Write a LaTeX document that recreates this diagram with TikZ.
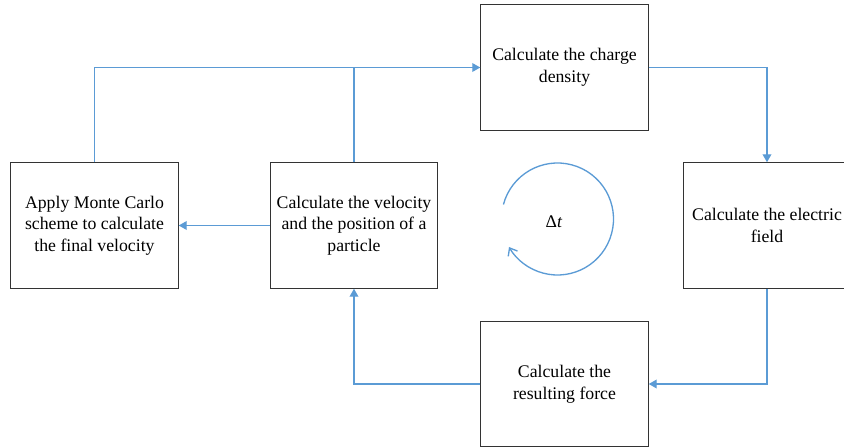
\documentclass[tikz,border=0pt]{standalone}
\usepackage{fontspec}
\setmainfont{Liberation Serif}
\usetikzlibrary{arrows.meta}
\definecolor{flowblue}{RGB}{91,155,213}
\begin{document}
\begin{tikzpicture}[
                x=0.75pt, y=0.75pt,
                box/.style={draw=black!80, line width=0.8pt, minimum width=125.5pt, minimum height=94pt,
                            align=center, font=\fontsize{13.3}{16.3}\selectfont, inner sep=2pt},
                flow/.style={draw=flowblue, line width=1pt},
                tip/.style={-{Triangle[length=6pt, width=6.5pt]}}
            ]

                % Frame of the picture
                \useasboundingbox (0,0) rectangle (844,447);

                % The five steps of the loop
                \node[box] (charge) at (564.5,379.5) {Calculate the charge\\density};
                \node[box] (field) at (767,221.5) {Calculate the electric\\field};
                \node[box] (force) at (564.5,63) {Calculate the\\resulting force};
                \node[box] (velocity) at (354,221.5) {Calculate the velocity\\and the position of a\\particle};
                \node[box] (monte) at (94.5,221.5) {Apply Monte Carlo\\scheme to calculate\\the final velocity};

                % Connectors round the loop
                \draw[flow, tip] (charge.east) -| (field.north);
                \draw[flow, tip] (field.south) |- (force.east);
                \draw[flow, tip] (force.west) -| (velocity.south);
                \draw[flow, tip] (velocity.west) -- (monte.east);
                \draw[flow, tip] (monte.north) |- (charge.west);
                \draw[flow] (velocity.north) -- (velocity.north |- charge.west);

                % Time step symbol in the middle
                \coordinate (loop) at (557.5,228);
                \draw[flow, -{Straight Barb[length=5pt, width=8pt]}] ([shift={(165:56)}]loop) arc (165:-150:56);
                \node[font=\fontsize{13.3}{15}\selectfont] (dt) at (554,225) {Δ\textit{t}};

            \end{tikzpicture}
\end{document}
